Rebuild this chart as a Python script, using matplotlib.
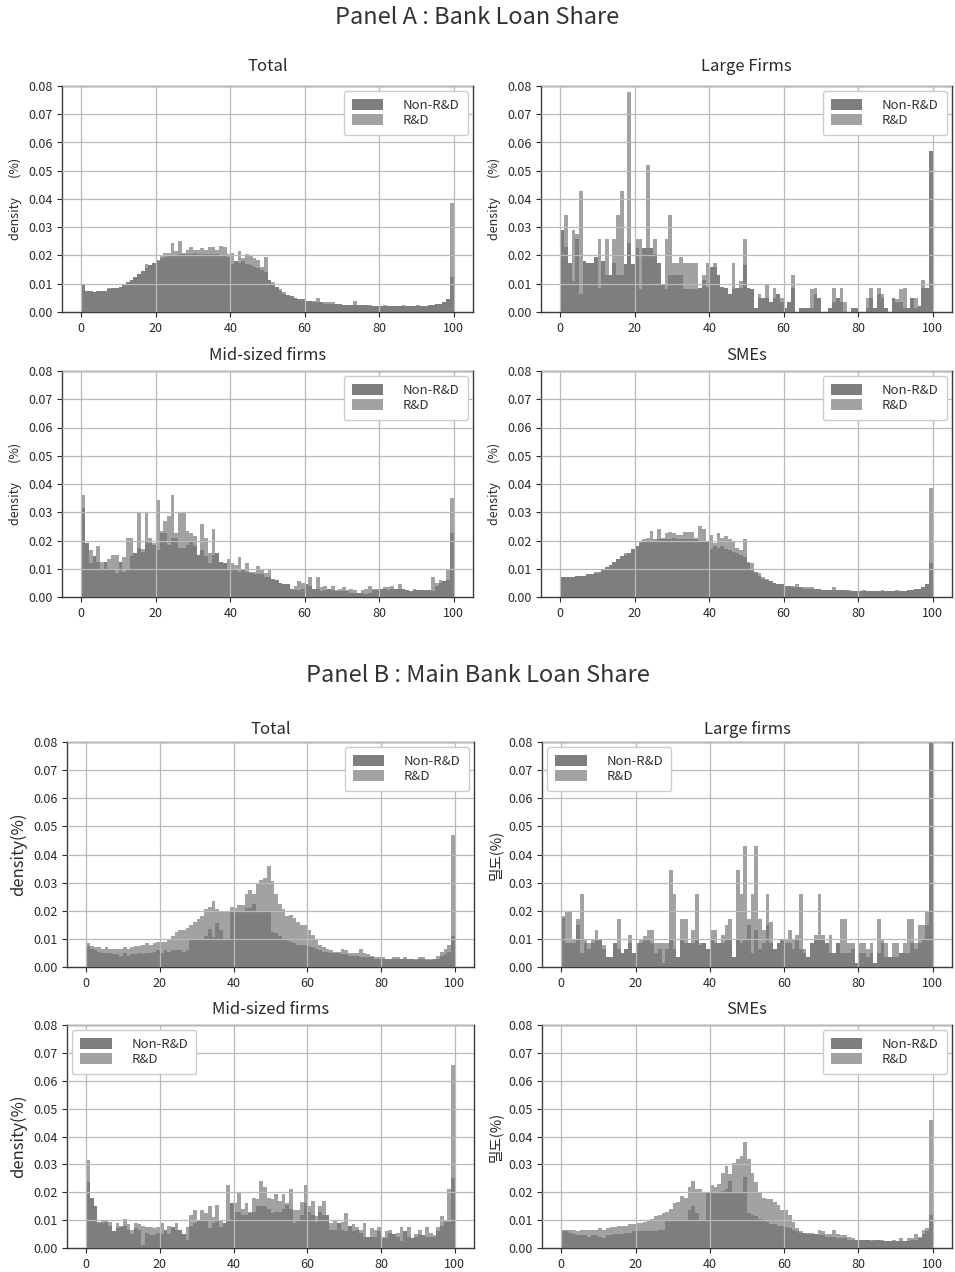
import matplotlib.pyplot as plt
import numpy as np

plt.rcParams['font.family'] = ['Noto Sans CJK KR', 'DejaVu Sans']
plt.rcParams['axes.unicode_minus'] = False

# histogram bins: 1-point wide, 0..100
bin_edges = np.arange(0, 101, 1)

# densities, in units of 1e-3 (one value per bin)
a_total_non = [9.5, 7.5, 7.5, 7.0, 7.5, 7.5, 7.5, 8.0, 8.5, 8.5,
               9.0, 9.5, 10.5, 11.5, 12.5, 13.5, 14.5, 15.5, 16.5, 17.5,
               18.0, 19.0, 19.5, 20.0, 20.0, 20.0, 20.5, 20.5, 20.5, 20.5,
               21.0, 20.5, 20.5, 20.5, 20.5, 20.5, 20.5, 20.0, 20.0, 19.5,
               17.0, 18.0, 17.5, 18.0, 17.0, 16.5, 16.0, 15.5, 15.0, 14.0,
               11.5, 10.0, 9.0, 7.5, 6.5, 6.0, 5.5, 5.0, 4.5, 4.5,
               4.0, 4.0, 3.5, 3.5, 3.5, 3.0, 3.0, 3.0, 3.0, 3.0,
               2.5, 2.5, 2.5, 2.5, 2.5, 2.5, 2.5, 2.0, 2.0, 2.0,
               2.0, 2.0, 2.0, 2.0, 2.0, 2.0, 2.0, 2.0, 2.0, 2.0,
               2.0, 2.0, 2.0, 2.5, 2.5, 3.0, 3.0, 3.5, 4.5, 12.5]
a_total_rd = [9.0, 7.0, 7.0, 6.5, 7.5, 7.5, 7.0, 8.5, 8.0, 8.5,
              9.0, 9.5, 10.0, 11.0, 12.0, 13.0, 14.0, 17.0, 16.0, 17.5,
              18.5, 20.0, 21.0, 21.0, 24.5, 21.5, 25.0, 21.0, 22.0, 23.0,
              22.0, 22.0, 22.5, 22.0, 23.0, 23.0, 22.0, 23.5, 23.0, 20.5,
              21.0, 17.5, 21.5, 19.0, 20.5, 20.0, 19.0, 18.5, 16.0, 19.5,
              11.5, 10.5, 9.0, 8.0, 7.0, 6.0, 5.5, 5.0, 4.5, 4.5,
              4.0, 4.0, 4.0, 5.0, 3.5, 3.5, 3.5, 3.5, 3.0, 3.0,
              2.5, 2.5, 2.5, 4.0, 2.5, 2.5, 2.5, 2.5, 2.0, 2.0,
              2.0, 2.5, 2.0, 2.0, 2.0, 2.0, 2.5, 2.0, 2.0, 2.0,
              2.5, 2.0, 2.0, 2.0, 2.5, 3.0, 3.0, 3.5, 4.0, 38.5]

a_large_non = [29, 23, 17.5, 11, 26, 6.5, 18, 17.5, 17.5, 19.5,
               8.5, 18, 13, 13, 17.5, 13, 13, 17, 24.5, 17,
               22.5, 8, 22.5, 22.5, 22.5, 20.5, 17.5, 10, 8, 13,
               13, 13, 13, 8, 8, 8, 8, 8.5, 11.5, 9,
               16, 16, 13, 9, 8.5, 6.5, 8, 8.5, 8.5, 16.5,
               8.5, 8, 1.5, 5, 5, 5, 3.5, 5, 6.5, 3.5,
               1.5, 3.5, 8.5, 0, 1.5, 1.5, 1.5, 1.5, 6.5, 5,
               0, 0, 1.5, 3.5, 5, 3.5, 0, 0, 1.5, 1.5,
               0, 0, 1.5, 5, 1.5, 6.5, 5, 1.5, 0, 5,
               3.5, 3.5, 1.5, 1.5, 5, 1.5, 2, 8.5, 8.5, 57]
a_large_rd = [29, 34.5, 17, 29, 27.5, 43, 18, 17.5, 17.5, 19.5,
              26, 18, 26, 13, 26, 34.5, 43, 17, 78, 17,
              26, 26, 8.5, 52, 22.5, 26, 17.5, 10, 26, 34.5,
              17.5, 17.5, 19.5, 17.5, 17.5, 17.5, 17.5, 8.5, 13, 17.5,
              16, 17.5, 13, 9, 8.5, 6.5, 17.5, 8.5, 11, 26,
              8.5, 8, 1.5, 6.5, 5, 10, 3.5, 8.5, 6.5, 5,
              1.5, 3.5, 13, 0, 1.5, 1.5, 1.5, 8, 8.5, 5,
              0, 0, 1.5, 8.5, 5, 8.5, 3.5, 0, 1.5, 1.5,
              0, 0, 5, 8.5, 1.5, 8.5, 6.5, 1.5, 0, 5,
              4.5, 8, 8.5, 1.5, 5, 5, 2, 11.5, 8.5, 26]

a_mid_non = [31.5, 19, 12, 14.5, 12.5, 10, 12.5, 9.5, 10, 8.5,
             12.5, 9, 10, 14.5, 15.5, 17.5, 16, 20, 19, 18.5,
             16.5, 22.5, 22.5, 18.5, 21, 21, 17.5, 17.5, 18.5, 20,
             18, 15, 16.5, 14.5, 12, 15, 15.5, 12.5, 12, 10,
             10, 10, 9, 10, 9, 8.5, 8, 8, 8, 7,
             7, 6.5, 6, 5, 4.5, 4.5, 3, 2.5, 2.5, 3,
             4.5, 4, 3, 3, 2, 2.5, 3, 2.5, 2, 2,
             2, 2, 1.5, 1.5, 1.5, 1.5, 1, 1.5, 2.5, 2.5,
             3, 3, 2.5, 3, 3, 3, 3, 2.5, 2, 2.5,
             2.5, 2.5, 2.5, 2.5, 2, 4, 5, 5.5, 6, 22.5]
a_mid_rd = [36, 18, 16.5, 12, 18, 12.5, 9.5, 13.5, 15, 15,
            12.5, 14, 21, 21, 15, 30, 17, 30, 21, 19,
            34.5, 23.5, 27, 28.5, 36, 22.5, 30, 30, 23.5, 22.5,
            21.5, 13, 26, 21, 15.5, 24, 14, 12.5, 10, 13.5,
            12, 11.5, 14, 8.5, 12, 9, 9, 11, 10, 8.5,
            10, 6.5, 6, 5, 4.5, 2, 1, 4, 5.5, 5,
            4, 7, 3, 7, 3.5, 4, 3, 4, 2.5, 3,
            3.5, 2.5, 3, 2.5, 1, 2.5, 3, 4, 3, 3,
            3, 3.5, 3.5, 4, 3, 4.5, 2.5, 2, 1.5, 3,
            2.5, 2.5, 2.5, 0, 7, 5, 6, 5.5, 10, 35]

a_smes_non = [7.0, 7.0, 7.0, 7.0, 7.5, 7.5, 7.5, 8.0, 8.0, 8.5,
              9.0, 9.5, 10.5, 11.5, 12.5, 13.5, 14.5, 15.0, 15.5, 17.0,
              18.0, 19.0, 19.5, 20.0, 20.0, 20.0, 20.5, 20.5, 20.5, 20.5,
              21.0, 20.5, 20.5, 20.5, 20.5, 20.5, 20.5, 20.0, 20.0, 19.5,
              17.0, 18.0, 17.5, 18.0, 17.0, 16.5, 16.0, 15.5, 15.0, 14.0,
              12.0, 10.0, 9.0, 7.5, 6.5, 6.0, 5.5, 5.0, 4.5, 4.5,
              4.0, 4.0, 3.5, 3.5, 3.5, 3.0, 3.0, 3.0, 3.0, 3.0,
              2.5, 2.5, 2.5, 2.5, 2.5, 2.5, 2.5, 2.0, 2.0, 2.0,
              2.0, 2.0, 2.0, 2.0, 2.0, 2.0, 2.0, 2.0, 2.0, 2.0,
              2.0, 2.0, 2.0, 2.5, 2.5, 3.0, 3.0, 3.5, 4.5, 12.0]
a_smes_rd = [7.0, 6.5, 6.5, 6.5, 7.0, 7.0, 7.0, 7.5, 8.0, 9.0,
             9.0, 9.5, 10.5, 11.5, 12.5, 13.0, 14.5, 15.5, 15.5, 16.0,
             18.0, 19.5, 20.5, 21.0, 23.5, 20.5, 24.0, 21.0, 22.5, 23.0,
             22.5, 22.0, 22.0, 23.0, 23.0, 23.0, 21.0, 25.0, 24.0, 19.5,
             22.0, 19.0, 22.5, 21.0, 21.5, 20.5, 20.0, 17.5, 16.5, 20.5,
             12.5, 12.0, 9.0, 8.5, 7.0, 6.5, 5.5, 5.0, 4.5, 4.0,
             4.0, 4.0, 4.0, 4.5, 3.5, 3.5, 3.5, 3.5, 3.0, 3.0,
             2.5, 2.5, 2.5, 3.5, 2.5, 2.5, 2.5, 2.5, 2.0, 2.0,
             2.0, 2.5, 2.0, 2.0, 2.0, 2.0, 2.5, 2.0, 2.0, 2.0,
             2.5, 2.0, 2.0, 2.0, 2.5, 3.0, 3.0, 3.5, 4.0, 38.5]

b_total_non = [7.5, 6.5, 6, 5.5, 5, 5, 5, 4.5, 4.5, 4,
               5, 4, 4.5, 4.5, 5, 4.5, 5, 5, 5.5, 6,
               5, 6, 5.5, 6, 6, 6, 5.5, 6, 10, 10,
               10, 10, 11, 13.5, 10.5, 15.5, 13, 10, 10, 19.5,
               20, 20, 20, 21, 21, 22.5, 20, 20, 20, 20,
               12.5, 12, 11, 10, 10, 9, 8.5, 8, 8, 8,
               7.5, 7, 6.5, 6, 5.5, 5.5, 5, 5, 5, 4.5,
               4.5, 4, 4, 4, 3.5, 3.5, 3.5, 3.5, 3, 3,
               3, 3, 3, 3, 3, 3, 3, 3, 3, 2.5,
               3, 3, 2.5, 2.5, 3, 3, 4, 4.5, 5.5, 11]
b_total_rd = [8.5, 7.5, 7, 7, 6.5, 7, 6.5, 6.5, 6.5, 6.5,
              7, 6.5, 7, 7.5, 7.5, 8, 8.5, 8, 8.5, 9,
              9, 9, 10, 11, 12.5, 13, 13, 14, 15, 16,
              17, 18, 20.5, 21.5, 23.5, 20.5, 20, 20, 19.5, 21.5,
              21, 22, 22, 26, 27.5, 26, 29.5, 31, 31.5, 36,
              30.5, 26, 22.5, 20.5, 18, 18.5, 17.5, 16, 15, 15,
              13, 11.5, 9.5, 8, 7, 6.5, 6, 5.5, 5.5, 6.5,
              6, 5, 5, 5, 6.5, 5, 4.5, 4, 3.5, 3.5,
              3.5, 3, 3, 3.5, 3.5, 3, 3.5, 3, 3, 3,
              3.5, 3.5, 3, 3, 3, 4, 5.5, 6.5, 8, 47]

b_large_non = [17.5, 8.5, 8.5, 8.5, 15, 5, 8.5, 6.5, 8.5, 10,
               9.5, 6.5, 3.5, 3.5, 8.5, 6.5, 5, 6.5, 8.5, 5,
               8.5, 8.5, 10, 10, 8.5, 5, 6.5, 1.5, 6.5, 10,
               6.5, 3.5, 10, 8.5, 8.5, 8.5, 10, 8, 8.5, 6.5,
               10, 8.5, 8.5, 8.5, 10, 10, 3.5, 10, 8.5, 10,
               15, 5, 13, 6.5, 8.5, 15, 8.5, 6.5, 8.5, 10,
               8.5, 8.5, 6.5, 10, 6.5, 5, 3.5, 8.5, 10, 10,
               10, 8.5, 5, 5, 8.5, 5, 5, 5, 6.5, 1.5,
               5, 5, 3.5, 5, 1.5, 5, 8.5, 3.5, 3.5, 3.5,
               3.5, 5, 5, 5, 8.5, 6.5, 8.5, 10, 15, 90]
b_large_rd = [18, 19.5, 19.5, 9.5, 17, 26, 10, 8.5, 9.5, 13,
              9.5, 8, 3.5, 3.5, 8, 17, 5, 6.5, 11.5, 5,
              8.5, 10, 11, 13, 13, 8.5, 8.5, 8.5, 8.5, 34.5,
              26, 3.5, 17, 17, 3.5, 13, 26, 8.5, 8.5, 6.5,
              13, 13, 8.5, 11.5, 15, 17, 3.5, 34.5, 26, 43,
              17, 26, 43, 17, 13, 26, 16, 6.5, 8.5, 8.5,
              9.5, 13, 10, 11.5, 26, 6.5, 3.5, 8.5, 11.5, 26,
              11.5, 8.5, 11.5, 5, 8.5, 17, 17, 8.5, 8.5, 1.5,
              8.5, 8.5, 6.5, 8.5, 1.5, 17, 10, 8.5, 3.5, 8.5,
              8.5, 5, 8.5, 17, 17, 8.5, 15, 15, 19.5, 30]

b_mid_non = [23.5, 18, 15, 9, 9, 9.5, 8, 6, 7, 7.5,
             8, 6.5, 5, 7, 6.5, 1, 5.5, 4.5, 4.5, 5.5,
             5, 6.5, 5, 7.5, 6.5, 6.5, 5, 3, 8, 9,
             10, 10, 10, 7, 9, 10, 7.5, 9, 10, 16,
             13, 13, 12, 12, 12.5, 13, 15, 15, 15, 14,
             12.5, 13, 13, 14, 15.5, 14, 9, 10, 12, 16,
             13, 12, 9.5, 13, 12, 12, 6.5, 6.5, 9, 6.5,
             6, 8, 6, 6.5, 5.5, 4, 4, 4, 4, 6,
             3.5, 3.5, 5.5, 5, 4, 2.5, 6, 4, 3.5, 4,
             4.5, 4.5, 4, 4, 4, 6, 8, 9.5, 9.5, 25]
b_mid_rd = [31.5, 18, 14.5, 9.5, 10, 10, 9.5, 6, 9, 8,
            10.5, 8.5, 6.5, 9, 8.5, 8, 7.5, 7.5, 7, 7.5,
            9, 5, 8, 7, 9, 5, 4, 7.5, 12, 13.5,
            10, 13.5, 12.5, 15, 11, 15.5, 10, 9, 22.5, 14,
            16, 20, 14, 16, 13, 18, 17.5, 24, 22, 18,
            17.5, 19.5, 17, 19.5, 16, 21, 13.5, 13.5, 16.5, 22.5,
            15, 17, 11.5, 15, 17, 10, 9, 10, 7.5, 9.5,
            12.5, 7, 8.5, 7.5, 6.5, 9, 4, 7, 6.5, 7.5,
            4, 6, 6.5, 3, 5.5, 7.5, 5, 7.5, 3, 5,
            6.5, 3, 7.5, 5.5, 4.5, 7.5, 11.5, 10, 21, 65.5]

b_smes_non = [6, 6, 5.5, 5, 4.5, 4.5, 4.5, 4, 4.5, 4.5,
              4, 3.5, 4.5, 4.5, 5, 5, 5, 5.5, 5.5, 6,
              6, 6, 6, 6, 6, 6, 6.5, 6.5, 10, 10,
              10, 10, 10, 10, 13.5, 15, 12.5, 10, 10, 20,
              20, 20, 20, 20.5, 21, 24, 20, 20, 20, 25.5,
              12.5, 12, 11.5, 10.5, 10, 9.5, 8.5, 8.5, 8, 8,
              7.5, 7, 6.5, 6, 5.5, 5.5, 5, 5, 5, 4.5,
              4.5, 4, 4, 4, 3.5, 3.5, 3.5, 3, 3, 3,
              3, 3, 3, 2.5, 3, 3, 2.5, 2.5, 2.5, 2.5,
              2.5, 2.5, 2.5, 2.5, 3, 3, 3.5, 5, 6, 12]
b_smes_rd = [6.5, 6.5, 6.5, 6.5, 6, 6.5, 6.5, 6.5, 6.5, 6.5,
             7, 6.5, 7, 7.5, 7.5, 8, 8, 8, 8.5, 8.5,
             9, 9, 9.5, 10, 10.5, 11.5, 12, 12.5, 13, 14,
             16, 16.5, 18.5, 18, 22, 24, 21, 21, 20, 20,
             22.5, 22, 23, 27, 29.5, 26.5, 30.5, 32, 33, 38,
             32, 27, 23.5, 20, 18, 17.5, 17.5, 16.5, 15.5, 13.5,
             13.5, 12, 9.5, 7, 6, 5.5, 5.5, 5.5, 5, 6.5,
             6, 5, 5, 6.5, 5, 4.5, 4.5, 4, 3.5, 3,
             3, 3, 3, 3, 3, 3, 3, 2.5, 2.5, 3,
             2.5, 3.5, 2, 3.5, 3.5, 5, 4, 6.5, 7, 46]

x_ticks = [0, 20, 40, 60, 80, 100]
y_ticks = [0.00, 0.01, 0.02, 0.03, 0.04, 0.05, 0.06, 0.07, 0.08]

COLOR_NON = '#7e7e80'
COLOR_RD = '#a2a2a2'

W, H = 955, 1272


def px_axes(fig, left, top, right, bottom):
    return fig.add_axes([left / W, 1 - bottom / H, (right - left) / W, (bottom - top) / H])


def draw_panel(ax, non, rd, title, ylabel, ylabel_size, legend_loc, title_pad):
    centers = bin_edges[:-1] + 0.5
    ax.hist(centers, bins=bin_edges, weights=np.array(rd) / 1000,
            color=COLOR_RD, label='R&D')
    ax.hist(centers, bins=bin_edges, weights=np.array(non) / 1000,
            color=COLOR_NON, label='Non-R&D')

    ax.set_xlim(-5.2, 105.2)
    ax.set_ylim(0, 0.08)
    ax.set_xticks(x_ticks)
    ax.set_yticks(y_ticks)
    ax.set_yticklabels([f'{v:.2f}' for v in y_ticks])
    ax.tick_params(labelsize=9, colors='#2a2a2a', length=3.5, width=0.8)

    ax.grid(True, color='#b9b9b9', linewidth=0.9)
    ax.set_axisbelow(False)
    for sp in ax.spines.values():
        sp.set_color('#3c3c3c')
        sp.set_linewidth(1.0)

    ax.set_title(title, fontsize=12, color='#2a2a2a', pad=title_pad)
    ax.set_ylabel(ylabel, fontsize=ylabel_size, color='#2a2a2a', labelpad=4)

    handles, labels = ax.get_legend_handles_labels()
    leg = ax.legend(handles[::-1], labels[::-1], loc=legend_loc, fontsize=9.5,
                    handlelength=2.4, handleheight=0.9, handletextpad=1.5,
                    borderpad=0.6, labelspacing=0.15, borderaxespad=0.4,
                    fancybox=True, framealpha=1.0, edgecolor='#cccccc')
    for t in leg.get_texts():
        t.set_color('#333333')


fig = plt.figure(figsize=(W / 100, H / 100), dpi=100)

fig.text(0.5, 1 - 18 / H, 'Panel A : Bank Loan Share', ha='center', va='center',
         fontsize=17, color='#333333', fontweight='light')
fig.text(0.5, 1 - 676 / H, 'Panel B : Main Bank Loan Share', ha='center', va='center',
         fontsize=17, color='#333333', fontweight='light')

ylab_a = 'density       (%)'

ax = px_axes(fig, 62, 86, 473, 312)
draw_panel(ax, a_total_non, a_total_rd, 'Total', ylab_a, 9, 'upper right', 11)
ax = px_axes(fig, 541, 86, 952, 312)
draw_panel(ax, a_large_non, a_large_rd, 'Large Firms', ylab_a, 9, 'upper right', 11)
ax = px_axes(fig, 62, 371, 473, 597)
draw_panel(ax, a_mid_non, a_mid_rd, 'Mid-sized firms', ylab_a, 9, 'upper right', 8)
ax = px_axes(fig, 541, 371, 952, 597)
draw_panel(ax, a_smes_non, a_smes_rd, 'SMEs', ylab_a, 9, 'upper right', 8)

ax = px_axes(fig, 67, 742, 474, 967)
draw_panel(ax, b_total_non, b_total_rd, 'Total', 'density(%)', 12, 'upper right', 6)
ax = px_axes(fig, 542, 742, 952, 967)
draw_panel(ax, b_large_non, b_large_rd, 'Large firms', '밀도(%)', 10.5, 'upper left', 6)
ax = px_axes(fig, 67, 1025, 474, 1248)
draw_panel(ax, b_mid_non, b_mid_rd, 'Mid-sized firms', 'density(%)', 12, 'upper left', 8)
ax = px_axes(fig, 542, 1025, 952, 1248)
draw_panel(ax, b_smes_non, b_smes_rd, 'SMEs', '밀도(%)', 10.5, 'upper right', 8)

fig.savefig('out.png', dpi=100)
